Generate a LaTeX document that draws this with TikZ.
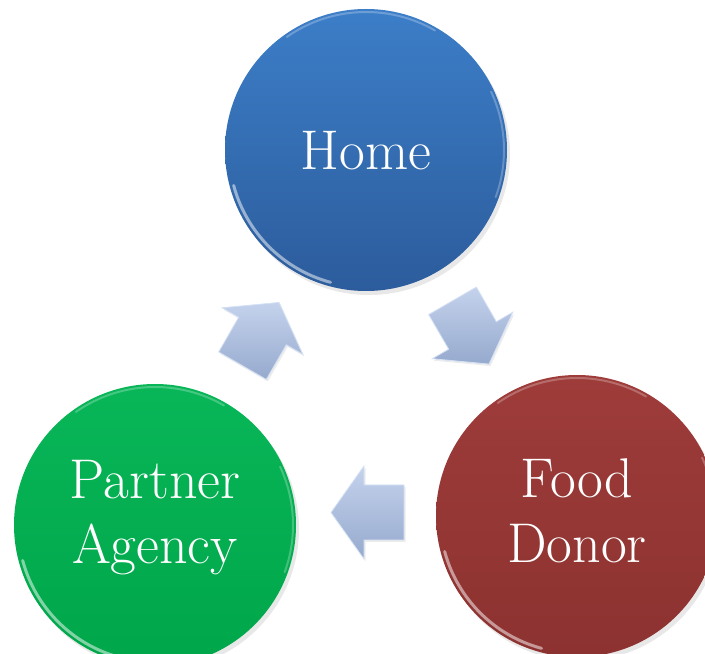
\documentclass[tikz,border=0pt]{standalone}
\usepackage{fontspec}
\usetikzlibrary{shadows,calc}
\definecolor{homeTop}{RGB}{60,126,200}
\definecolor{homeBot}{RGB}{44,92,156}
\definecolor{donorTop}{RGB}{158,60,58}
\definecolor{donorBot}{RGB}{140,50,48}
\definecolor{agencyTop}{RGB}{8,182,88}
\definecolor{agencyBot}{RGB}{0,166,74}
\definecolor{arrLight}{RGB}{196,210,236}
\definecolor{arrDark}{RGB}{150,170,206}
\definecolor{arrEdge}{RGB}{212,224,244}
\tikzset{
  disc/.style={circle, minimum size=282pt, inner sep=0pt,
    drop shadow={shadow xshift=3pt, shadow yshift=-4pt, opacity=0.18}},
  disctext/.style={text=white, align=center, inner sep=0pt,
    font=\fontsize{56}{65}\selectfont},
  rim/.style={line width=3pt, white, opacity=0.5, line cap=round},
  softrim/.style={line width=2pt, white, opacity=0.25, line cap=round},
  blockarrow/.style={top color=arrLight, bottom color=arrDark, draw=arrEdge,
    line width=0.8pt, line join=miter,
    drop shadow={shadow xshift=1.5pt, shadow yshift=-2pt, opacity=0.15}},
}
\newcommand{\blockarrowpath}{(-36,-27.5) -- (4,-27.5) -- (4,-46.5) -- (37,0) -- (4,46.5) -- (4,27.5) -- (-36,27.5) -- cycle}
\begin{document}
\begin{tikzpicture}[x=1pt,y=1pt]
\useasboundingbox (0,0) rectangle (705,654);
\clip (0,0) rectangle (705,654);
\node[disc, top color=homeTop, bottom color=homeBot] (home) at (366,504) {};
\node[disc, top color=agencyTop, bottom color=agencyBot] (agency) at (155,129) {};
\node[disc, top color=donorTop, bottom color=donorBot] (donor) at (577,138) {};
\foreach \n in {home,agency,donor}{
  \draw[rim] ([shift={(195:137)}]\n.center) arc[start angle=195, end angle=255, radius=137];
  \draw[softrim] ([shift={(60:138)}]\n.center) arc[start angle=60, end angle=125, radius=138];
  \draw[softrim] ([shift={(-20:138)}]\n.center) arc[start angle=-20, end angle=25, radius=138];
}
\node[disctext] (hometext) at ($(home)+(0,-1)$) {Home};
\node[disctext] (agencytext) at ($(agency)+(0,7)$) {Partner\\Agency};
\node[disctext] (donortext) at ($(donor)+(0,5)$) {Food\\Donor};
\path[blockarrow, shift={($(agency)!0.5!(home)+(0,3)$)}, rotate=60] \blockarrowpath;
\path[blockarrow, shift={($(home)!0.5!(donor)+(-1,1)$)}, rotate=-60] \blockarrowpath;
\path[blockarrow, shift={($(donor)!0.5!(agency)+(2,8)$)}, rotate=180] \blockarrowpath;
\end{tikzpicture}
\end{document}
